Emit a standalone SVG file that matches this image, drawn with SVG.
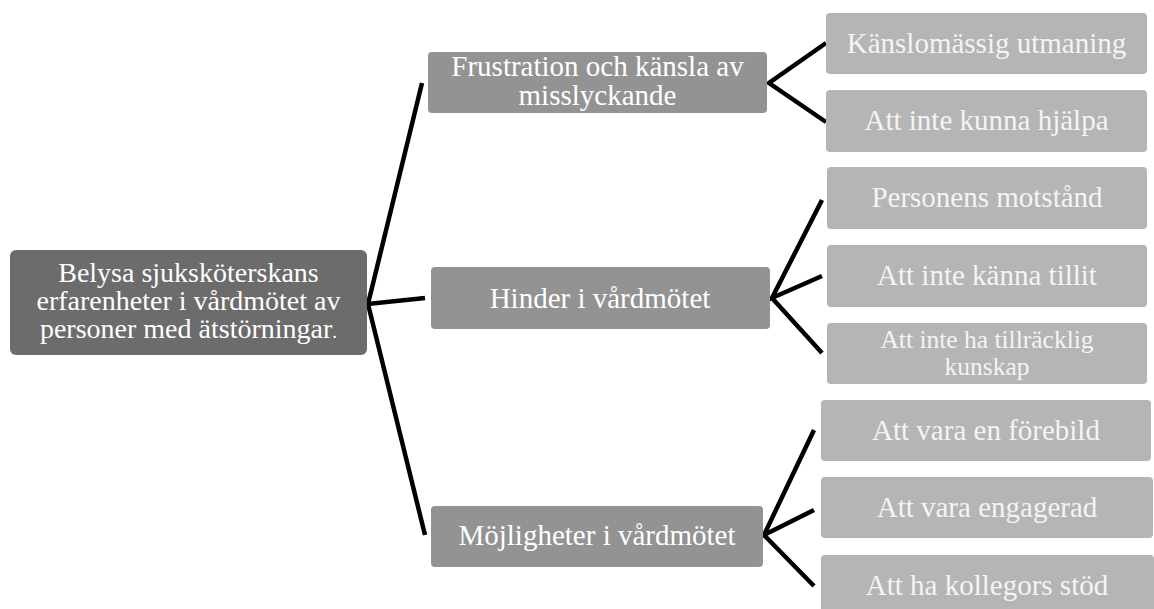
<svg xmlns="http://www.w3.org/2000/svg" width="1154" height="609" viewBox="0 0 1154 609">
<style>
.t{font-family:"Liberation Serif","Times New Roman",serif;font-size:29px;fill:#ffffff;text-anchor:middle}
.r{font-size:28px}
.s{font-size:25.5px}
.tl{fill:#f4f4f4}
.root{fill:#6c6c6c}
.mid{fill:#939393}
.leaf{fill:#b5b5b5}
.c{stroke:#000;stroke-width:4.5;fill:none;stroke-linecap:butt;stroke-linejoin:miter}
</style>
<rect width="1154" height="609" fill="#ffffff"/>
<g id="connectors">
<path class="c" d="M422,83 L368,304 L425,298 M368,304 L425,535"/>
<path class="c" d="M826,43 L769,83 L826,122"/>
<path class="c" d="M822,200 L772,298 L822,276 M772,298 L822,353"/>
<path class="c" d="M814,430 L764,535 L814,510 M764,535 L814,586"/>
</g>
<g id="root">
<rect class="root" x="10" y="250" width="357" height="105" rx="6"/>
<text class="t r" x="188.5" y="281.5">Belysa sjuksköterskans</text>
<text class="t r" x="188.5" y="309.5">erfarenheter i vårdmötet av</text>
<text class="t r" x="188.5" y="337.5">personer med ätstörningar<tspan font-size="19">.</tspan></text>
</g>
<g id="frustration">
<rect class="mid" x="428" y="52" width="339" height="61" rx="4"/>
<text class="t" x="597.5" y="76">Frustration och känsla av</text>
<text class="t" x="597.5" y="105">misslyckande</text>
</g>
<g id="hinder">
<rect class="mid" x="431" y="267" width="339" height="62" rx="4"/>
<text class="t" x="600" y="308">Hinder i vårdmötet</text>
</g>
<g id="mojligheter">
<rect class="mid" x="431" y="506" width="332" height="61" rx="4"/>
<text class="t" x="597" y="545">Möjligheter i vårdmötet</text>
</g>
<g id="kanslomassig">
<rect class="leaf" x="826" y="13" width="321" height="61" rx="4"/>
<text class="t tl" x="986.5" y="53">Känslomässig utmaning</text>
</g>
<g id="hjalpa">
<rect class="leaf" x="826" y="90" width="321" height="62" rx="4"/>
<text class="t tl" x="986.5" y="130">Att inte kunna hjälpa</text>
</g>
<g id="motstand">
<rect class="leaf" x="827" y="167" width="320" height="62" rx="4"/>
<text class="t tl" x="987" y="207">Personens motstånd</text>
</g>
<g id="tillit">
<rect class="leaf" x="827" y="245" width="320" height="62" rx="4"/>
<text class="t tl" x="987" y="285">Att inte känna tillit</text>
</g>
<g id="kunskap">
<rect class="leaf" x="827" y="323" width="320" height="61" rx="4"/>
<text class="t tl s" x="987" y="347.5">Att inte ha tillräcklig</text>
<text class="t tl s" x="987" y="375">kunskap</text>
</g>
<g id="forebild">
<rect class="leaf" x="821" y="400" width="330" height="61" rx="4"/>
<text class="t tl" x="986" y="440">Att vara en förebild</text>
</g>
<g id="engagerad">
<rect class="leaf" x="821" y="477" width="332" height="61" rx="4"/>
<text class="t tl" x="987" y="517">Att vara engagerad</text>
</g>
<g id="kollegor">
<rect class="leaf" x="821" y="555" width="333" height="61" rx="4"/>
<text class="t tl" x="987" y="595">Att ha kollegors stöd</text>
</g>
</svg>
